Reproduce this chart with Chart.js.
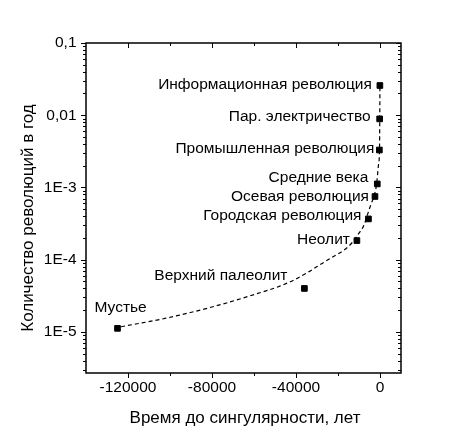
<!DOCTYPE html>
<html>
<head>
<meta charset="utf-8">
<script src="https://cdn.jsdelivr.net/npm/chart.js@4.4.0/dist/chart.umd.min.js"></script>
<style>
    html, body { margin: 0; padding: 0; background: #fff; }
    #wrap { width: 457px; height: 439px; }
</style>
</head>
<body>
<div id="wrap"><canvas id="singChart" width="457" height="439"></canvas></div>
<script>
// Revolutions (years before singularity, revolutions per year)
const eventNames = [
    'Мустье', 'Верхний палеолит', 'Неолит', 'Городская революция', 'Осевая революция',
    'Средние века', 'Промышленная революция', 'Пар. электричество', 'Информационная революция'
];
const eventYears = [-125000, -36000, -11000, -5500, -2400, -1300, -300, -170, -55];
const eventRates = [1.12e-5, 4.0e-5, 1.84e-4, 3.67e-4, 7.5e-4, 1.12e-3, 3.3e-3, 8.9e-3, 0.0258];

// dashed trend curve
const curveYears = [-123300, -101900, -78150, -59100, -48000, -40900, -33800, -27400, -21900,
    -17100, -13200, -10000, -7600, -6000, -4400, -2850, -1660, -710, -240, -120, -30];
const curveRates = [1.18e-5, 1.55e-5, 2.29e-5, 3.35e-5, 4.27e-5, 5.25e-5, 6.84e-5, 8.95e-5, 1.12e-4,
    1.36e-4, 1.73e-4, 2.33e-4, 3.03e-4, 4.17e-4, 5.74e-4, 7.65e-4, 1.09e-3, 2.06e-3, 3.32e-3, 8.6e-3, 0.025];

// axes
const xMajorTicks = [-120000, -80000, -40000, 0];
const xMinorTicks = [-100000, -60000, -20000];
const yDecades = [1e-5, 1e-4, 1e-3, 1e-2, 1e-1];
const yDecadeLabels = ['1E-5', '1E-4', '1E-3', '0,01', '0,1'];
const xTitle = 'Время до сингулярности, лет';
const yTitle = 'Количество революций в год';

const FONT = '"Liberation Sans", Arial, sans-serif';

// label placement: [dx to text edge, dy, align]
const labelOffsets = [
    [-23, -21, 'left'], [-17, -13, 'right'], [-7, -1, 'right'], [-7, -3, 'right'], [-6, 0, 'right'],
    [-9, -6, 'right'], [-5, -1, 'right'], [-9, -2, 'right'], [-8, -1, 'right']
];

const yMinor = [];
[1e-6, 1e-5, 1e-4, 1e-3, 1e-2].forEach(d => {
    for (let k = 2; k <= 9; k++) yMinor.push(k * d);
});

const framePlugin = {
    id: 'frameAndTicks',
    afterDraw(chart) {
        const { ctx, chartArea: a, scales: { x, y } } = chart;
        ctx.save();
        ctx.strokeStyle = '#000';
        ctx.lineWidth = 1;
        ctx.beginPath();
        const tickX = (v, len) => {
            const px = Math.round(x.getPixelForValue(v)) + 0.5;
            ctx.moveTo(px, a.bottom); ctx.lineTo(px, a.bottom + len);   // bottom, outward
            ctx.moveTo(px, a.top); ctx.lineTo(px, a.top + len);         // top, inward
        };
        const tickY = (v, len) => {
            const py = Math.round(y.getPixelForValue(v)) + 0.5;
            if (py < a.top - 1 || py > a.bottom + 1) return;
            ctx.moveTo(a.left, py); ctx.lineTo(a.left - len, py);       // left, outward
            ctx.moveTo(a.right, py); ctx.lineTo(a.right - len, py);     // right, inward
        };
        xMajorTicks.forEach(v => tickX(v, 5));
        xMinorTicks.forEach(v => tickX(v, 3));
        yDecades.forEach(v => tickY(v, 5));
        yMinor.forEach(v => tickY(v, 3));
        ctx.stroke();

        ctx.lineWidth = 1.5;
        ctx.strokeRect(a.left, a.top, a.right - a.left, a.bottom - a.top);

        // axis titles
        ctx.fillStyle = '#000';
        ctx.font = '17px ' + FONT;
        ctx.textAlign = 'center';
        ctx.textBaseline = 'middle';
        ctx.fillText(xTitle, 245, 418);
        ctx.translate(28, 218);
        ctx.rotate(-Math.PI / 2);
        ctx.fillText(yTitle, 0, 0);
        ctx.restore();
    },
    afterDatasetsDraw(chart) {
        const { ctx } = chart;
        const meta = chart.getDatasetMeta(1);
        ctx.save();
        ctx.fillStyle = '#000';
        ctx.font = '15.5px ' + FONT;
        ctx.textBaseline = 'middle';
        meta.data.forEach((pt, i) => {
            const [dx, dy, align] = labelOffsets[i];
            ctx.textAlign = align;
            ctx.fillText(eventNames[i], pt.x + dx, pt.y + dy);
        });
        ctx.restore();
    }
};

document.addEventListener('DOMContentLoaded', function() {
    const ctx = document.getElementById('singChart');

    new Chart(ctx, {
        type: 'scatter',
        data: {
            datasets: [
                {
                    data: curveYears.map((t, i) => ({ x: t, y: curveRates[i] })),
                    showLine: true,
                    borderColor: '#000',
                    borderWidth: 1.2,
                    borderDash: [4, 3],
                    pointRadius: 0,
                    cubicInterpolationMode: 'monotone'
                },
                {
                    data: eventYears.map((t, i) => ({ x: t, y: eventRates[i] })),
                    pointStyle: 'rect',
                    pointRadius: 4,
                    borderWidth: 1,
                    backgroundColor: '#000',
                    borderColor: '#000'
                }
            ]
        },
        options: {
            responsive: false,
            animation: false,
            layout: { padding: { top: 43, right: 56, bottom: 0, left: 0 } },
            plugins: {
                legend: { display: false },
                tooltip: { enabled: false }
            },
            scales: {
                x: {
                    type: 'linear',
                    min: -140000,
                    max: 10000,
                    grid: { display: false, drawTicks: false, tickLength: 0 },
                    border: { display: false },
                    afterBuildTicks: s => { s.ticks = xMajorTicks.map(v => ({ value: v })); },
                    afterFit: s => { s.height = 66; },
                    ticks: {
                        color: '#000',
                        padding: 5,
                        maxRotation: 0,
                        font: { family: FONT, size: 15.5 },
                        callback: v => String(v)
                    }
                },
                y: {
                    type: 'logarithmic',
                    min: 2.7e-6,
                    max: 0.1,
                    grid: { display: false, drawTicks: false, tickLength: 0 },
                    border: { display: false },
                    afterBuildTicks: s => { s.ticks = yDecades.map(v => ({ value: v })); },
                    afterFit: s => { s.width = 86; },
                    ticks: {
                        color: '#000',
                        padding: 9.5,
                        font: { family: FONT, size: 15.5 },
                        callback: v => {
                            const i = yDecades.findIndex(d => Math.abs(d - v) / d < 1e-6);
                            return i >= 0 ? yDecadeLabels[i] : '';
                        }
                    }
                }
            }
        },
        plugins: [framePlugin]
    });
});
</script>
</body>
</html>
